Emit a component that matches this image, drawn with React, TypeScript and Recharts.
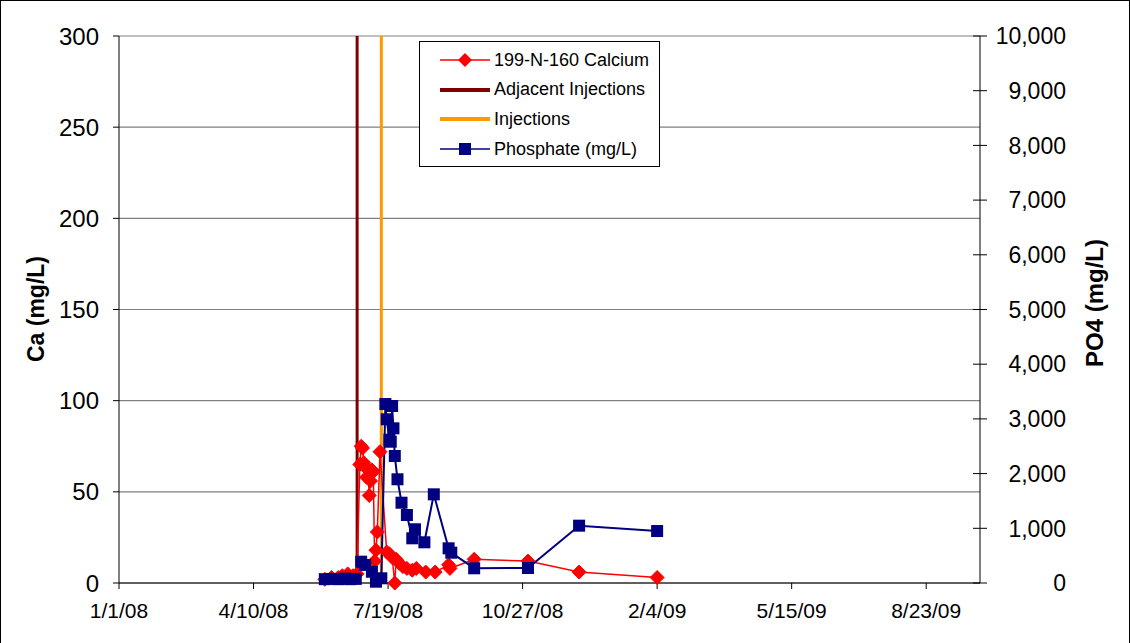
import React from "react";
import {
  ComposedChart,
  Line,
  XAxis,
  YAxis,
  CartesianGrid,
  ReferenceLine,
  Legend,
} from "recharts";

// sample dates (M/D/YY) and values
const caDates = [
  "6/2/08", "6/7/08", "6/12/08", "6/15/08", "6/19/08", "6/23/08", "6/26/08",
  "6/28/08", "6/29/08", "6/30/08", "7/1/08", "7/3/08", "7/4/08", "7/5/08",
  "7/6/08", "7/7/08", "7/8/08", "7/9/08", "7/10/08", "7/11/08", "7/13/08",
  "7/18/08", "7/20/08", "7/22/08", "7/24/08", "7/25/08", "7/27/08", "7/30/08",
  "8/2/08", "8/6/08", "8/9/08", "8/16/08", "8/23/08", "9/2/08", "9/3/08",
  "9/21/08", "10/31/08", "12/8/08", "2/4/09",
];
const caValues = [
  2, 3, 3, 4, 5, 4, 5,
  65, 75, 74, 66, 58, 62, 48,
  56, 62, 61, 12, 18, 28, 72,
  17, 16, 14, 0, 13, 11, 9,
  8, 7, 8, 6, 6, 10, 8,
  13, 12, 6, 3,
];

const po4Dates = [
  "6/2/08", "6/7/08", "6/12/08", "6/17/08", "6/21/08", "6/25/08", "6/29/08",
  "7/2/08", "7/7/08", "7/10/08", "7/14/08", "7/17/08", "7/18/08", "7/20/08",
  "7/21/08", "7/22/08", "7/23/08", "7/24/08", "7/26/08", "7/29/08", "8/2/08",
  "8/6/08", "8/8/08", "8/15/08", "8/22/08", "9/2/08", "9/4/08", "9/21/08",
  "10/31/08", "12/8/08", "2/4/09",
];
const po4Values = [
  70, 75, 70, 80, 70, 75, 390,
  330, 206, 24, 86, 3272, 2993, 2620,
  2583, 3236, 2828, 2322, 1896, 1468, 1243,
  817, 982, 744, 1621, 634, 554, 269,
  274, 1048, 950,
];

const adjacentInjection = "6/26/08";
const injection = "7/14/08";

const caTicks = [0, 50, 100, 150, 200, 250, 300];
const po4Ticks = [0, 1000, 2000, 3000, 4000, 5000, 6000, 7000, 8000, 9000, 10000];
const dayTicks = [0, 100, 200, 300, 400, 500, 600];

const START = Date.UTC(2008, 0, 1);
const DAY = 86400000;

const toDay = (s: string) => {
  const [m, d, y] = s.split("/").map(Number);
  return (Date.UTC(2000 + y, m - 1, d) - START) / DAY;
};

const fmtDay = (n: number) => {
  const dt = new Date(START + n * DAY);
  return `${dt.getUTCMonth() + 1}/${dt.getUTCDate()}/${String(dt.getUTCFullYear()).slice(2)}`;
};

const caData = caDates.map((d, i) => ({ day: toDay(d), ca: caValues[i] }));
const po4Data = po4Dates.map((d, i) => ({ day: toDay(d), po4: po4Values[i] }));

const FONT = "'Liberation Sans', Arial, sans-serif";

const Diamond = (props: any) => {
  const { cx, cy, index } = props;
  if (cx == null || cy == null) return <g key={index} />;
  const r = 7;
  return (
    <polygon
      key={index}
      points={`${cx},${cy - r} ${cx + r},${cy} ${cx},${cy + r} ${cx - r},${cy}`}
      fill="#FF0000"
      stroke="#FF0000"
    />
  );
};

const Square = (props: any) => {
  const { cx, cy, index } = props;
  if (cx == null || cy == null) return <g key={index} />;
  return <rect key={index} x={cx - 6} y={cy - 6} width={12} height={12} fill="#000080" />;
};

const legendItems = [
  { label: "199-N-160 Calcium", color: "#FF0000", marker: "diamond", w: 1.5 },
  { label: "Adjacent Injections", color: "#800000", marker: "", w: 4 },
  { label: "Injections", color: "#FF9900", marker: "", w: 4 },
  { label: "Phosphate (mg/L)", color: "#000080", marker: "square", w: 1.5 },
];

const renderLegend = () => (
  <div
    style={{
      position: "relative",
      width: 241,
      height: 126,
      border: "1px solid #000",
      background: "#fff",
      boxSizing: "border-box",
      fontFamily: FONT,
      fontSize: 18,
    }}
  >
    {legendItems.map((item, i) => (
      <div
        key={item.label}
        style={{ position: "absolute", left: 20, top: 5 + i * 29.7, height: 26, display: "flex", alignItems: "center" }}
      >
        <svg width={52} height={20}>
          <line x1={0} y1={10} x2={50} y2={10} stroke={item.color} strokeWidth={item.w} />
          {item.marker === "diamond" && <polygon points="25,3 32,10 25,17 18,10" fill={item.color} />}
          {item.marker === "square" && <rect x={19} y={4} width={12} height={12} fill={item.color} />}
        </svg>
        <span style={{ marginLeft: 2, whiteSpace: "nowrap", color: "#000" }}>{item.label}</span>
      </div>
    ))}
  </div>
);

const axisTitle = (text: string, x: number, y: number, size: number) => () => (
  <text
    x={x}
    y={y}
    transform={`rotate(-90, ${x}, ${y})`}
    textAnchor="middle"
    fontFamily={FONT}
    fontWeight="bold"
    fontSize={size}
    fill="#000"
  >
    {text}
  </text>
);

const RightTick = (props: any) => {
  const { y, payload } = props;
  return (
    <g>
      <line x1={973} y1={y} x2={987} y2={y} stroke="#000" />
      <text x={1066} y={y} dy="0.36em" textAnchor="end" fontFamily={FONT} fontSize={23} fill="#000">
        {Number(payload.value).toLocaleString("en-US")}
      </text>
    </g>
  );
};

export default function App() {
  return (
    <div style={{ position: "absolute", left: 0, top: 0, width: 1130, height: 643, background: "#fff" }}>
      <ComposedChart
        width={1130}
        height={643}
        margin={{ top: 36, right: 0, bottom: 0, left: 0 }}
        style={{ fontFamily: FONT }}
      >
        <CartesianGrid yAxisId="left" vertical={false} stroke="#808080" strokeWidth={1.2} />
        <XAxis
          dataKey="day"
          type="number"
          domain={[0, 640]}
          ticks={dayTicks}
          tickFormatter={fmtDay}
          allowDataOverflow
          height={60}
          stroke="#000"
          tickMargin={14}
          tick={{ fill: "#000", fontSize: 21 }}
        />
        <YAxis
          yAxisId="left"
          domain={[0, 300]}
          ticks={caTicks}
          width={119}
          stroke="#000"
          tickMargin={14}
          tick={{ fill: "#000", fontSize: 24 }}
          label={axisTitle("Ca (mg/L)", 44, 309, 23)}
        />
        <YAxis
          yAxisId="right"
          orientation="right"
          domain={[0, 10000]}
          ticks={po4Ticks}
          width={150}
          stroke="#000"
          tickLine={false}
          tick={<RightTick />}
          label={axisTitle("PO4 (mg/L)", 1103, 303, 24)}
        />
        <ReferenceLine yAxisId="left" x={toDay(adjacentInjection)} stroke="#800000" strokeWidth={3} />
        <ReferenceLine yAxisId="left" x={toDay(injection)} stroke="#FF9900" strokeWidth={3} />
        <Line
          yAxisId="left"
          data={caData}
          dataKey="ca"
          type="linear"
          stroke="#FF0000"
          strokeWidth={1.5}
          dot={Diamond}
          activeDot={false}
          isAnimationActive={false}
        />
        <Line
          yAxisId="right"
          data={po4Data}
          dataKey="po4"
          type="linear"
          stroke="#000080"
          strokeWidth={2}
          dot={Square}
          activeDot={false}
          isAnimationActive={false}
        />
        <Legend
          layout="vertical"
          align="center"
          verticalAlign="middle"
          wrapperStyle={{ left: 419, top: 41, width: 241, height: 126 }}
          content={renderLegend}
        />
      </ComposedChart>
      <div
        style={{
          position: "absolute",
          left: 0,
          top: 0,
          width: 1128,
          height: 660,
          border: "1px solid #000",
          pointerEvents: "none",
        }}
      />
    </div>
  );
}
